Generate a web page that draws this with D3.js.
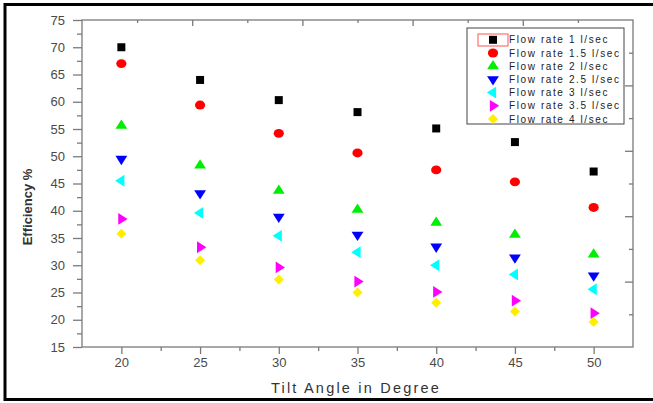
<!DOCTYPE html>
<html>
<head>
<meta charset="utf-8">
<script src="https://cdn.jsdelivr.net/npm/d3@7"></script>
<style>
  body { margin: 0; background: #fff; }
  svg { display: block; font-family: Arial, "Liberation Sans", sans-serif; }
</style>
</head>
<body>
<div id="chart"></div>
<script>
// tilt angles (x) and efficiency values per flow rate
const angles = [20, 25, 30, 35, 40, 45, 50];
const flow1 = [70, 64, 60.3, 58.1, 55.1, 52.6, 47.2];
const flow15 = [67, 59.4, 54.2, 50.6, 47.5, 45.3, 40.6];
const flow2 = [55.6, 48.3, 43.7, 40.2, 37.8, 35.6, 32.0];
const flow25 = [49.5, 43.2, 38.9, 35.6, 33.4, 31.4, 28.1];
const flow3 = [45.5, 39.6, 35.4, 32.4, 30.0, 28.3, 25.6];
const flow35 = [38.5, 33.3, 29.6, 27.0, 25.1, 23.5, 21.2];
const flow4 = [35.8, 30.9, 27.4, 25.0, 23.1, 21.5, 19.6];

const seriesNames = ["Flow rate 1 l/sec", "Flow rate 1.5 l/sec", "Flow rate 2 l/sec",
  "Flow rate 2.5 l/sec", "Flow rate 3 l/sec", "Flow rate 3.5 l/sec", "Flow rate 4 l/sec"];
const seriesValues = [flow1, flow15, flow2, flow25, flow3, flow35, flow4];
const seriesColors = ["#000000", "#ff0000", "#00ee00", "#0000ff", "#00ffff", "#ff00ff", "#ffee00"];
const seriesShapes = ["square", "circle", "up", "down", "left", "right", "diamond"];

const xTicks = [20, 25, 30, 35, 40, 45, 50];
const yTicks = [15, 20, 25, 30, 35, 40, 45, 50, 55, 60, 65, 70, 75];

const width = 653, height = 403;
const plotL = 82, plotR = 633, plotT = 20, plotB = 347;

const svg = d3.select('#chart').append('svg')
    .attr('width', width)
    .attr('height', height);

const x = d3.scaleLinear().domain([17.5, 52.5]).range([plotL, plotR]);
const y = d3.scaleLinear().domain([15, 75]).range([plotB, plotT]);

// outer border
svg.append('rect')
    .attr('x', 5).attr('y', 4.5)
    .attr('width', 660).attr('height', 395)
    .attr('fill', 'none')
    .attr('stroke', '#000')
    .attr('stroke-width', 3);

// plot frame
svg.append('rect')
    .attr('x', plotL).attr('y', plotT)
    .attr('width', plotR - plotL).attr('height', plotB - plotT)
    .attr('fill', 'none')
    .attr('stroke', '#7a7a7a')
    .attr('stroke-width', 1.3);

function styleAxis(g) {
    g.select('.domain').remove();
    g.selectAll('line').attr('stroke', '#7a7a7a').attr('stroke-width', 1.3);
    g.selectAll('text').attr('fill', '#4a4a4a').style('font-size', '13px');
}

// bottom axis: major + minor
svg.append('g')
    .attr('transform', `translate(0,${plotB})`)
    .call(d3.axisBottom(x).tickValues(xTicks).tickSize(7).tickPadding(4))
    .call(styleAxis);
svg.append('g')
    .attr('transform', `translate(0,${plotB})`)
    .call(d3.axisBottom(x).tickValues(xTicks.slice(0, -1).map(v => v + 2.5)).tickSize(4).tickFormat(''))
    .call(styleAxis);

// left axis: major + minor
svg.append('g')
    .attr('transform', `translate(${plotL},0)`)
    .call(d3.axisLeft(y).tickValues(yTicks).tickSize(9).tickPadding(8))
    .call(styleAxis);
svg.append('g')
    .attr('transform', `translate(${plotL},0)`)
    .call(d3.axisLeft(y).tickValues(yTicks.slice(0, -1).map(v => v + 2.5)).tickSize(5).tickFormat(''))
    .call(styleAxis);

// top and right axes have their own (unlabeled) 10-step scales
const xTop = d3.scaleLinear().domain([0, 10]).range([plotL, plotR]);
const yRight = d3.scaleLinear().domain([0, 10]).range([plotB, plotT]);
const oddSteps = [1, 3, 5, 7, 9], evenSteps = [2, 4, 6, 8];

svg.append('g')
    .attr('transform', `translate(0,${plotT})`)
    .call(d3.axisBottom(xTop).tickValues(evenSteps).tickSize(6).tickFormat(''))
    .call(styleAxis);
svg.append('g')
    .attr('transform', `translate(0,${plotT})`)
    .call(d3.axisBottom(xTop).tickValues(oddSteps).tickSize(3).tickFormat(''))
    .call(styleAxis);
svg.append('g')
    .attr('transform', `translate(${plotR},0)`)
    .call(d3.axisLeft(yRight).tickValues(evenSteps).tickSize(8).tickFormat(''))
    .call(styleAxis);
svg.append('g')
    .attr('transform', `translate(${plotR},0)`)
    .call(d3.axisLeft(yRight).tickValues(oddSteps).tickSize(4).tickFormat(''))
    .call(styleAxis);

// axis titles
svg.append('text')
    .attr('x', 356)
    .attr('y', 393)
    .attr('text-anchor', 'middle')
    .style('font-size', '14.5px')
    .style('letter-spacing', '2.2px')
    .attr('fill', '#333')
    .text('Tilt Angle in Degree');

svg.append('text')
    .attr('transform', 'translate(32,207) rotate(-90)')
    .attr('text-anchor', 'middle')
    .style('font-size', '13px')
    .style('font-weight', 'bold')
    .attr('fill', '#333')
    .text('Efficiency %');

// marker shapes
function symbolPath(shape) {
    switch (shape) {
        case 'square': return { d: d3.symbol(d3.symbolSquare, 64)(), rot: 0, sx: 1 };
        case 'circle': return { d: d3.symbol(d3.symbolCircle, 62)(), rot: 0, sx: 1.15 };
        case 'up': return { d: d3.symbol(d3.symbolTriangle, 50)(), rot: 0, sx: 1.1 };
        case 'down': return { d: d3.symbol(d3.symbolTriangle, 50)(), rot: 180, sx: 1.1 };
        case 'left': return { d: d3.symbol(d3.symbolTriangle, 50)(), rot: -90, sx: 1.1 };
        case 'right': return { d: d3.symbol(d3.symbolTriangle, 50)(), rot: 90, sx: 1.1 };
        case 'diamond': return { d: d3.symbol(d3.symbolSquare, 50)(), rot: 45, sx: 1 };
    }
}

function drawMarker(g, shape, color, cx, cy) {
    const s = symbolPath(shape);
    g.append('path')
        .attr('d', s.d)
        .attr('fill', color)
        .attr('transform', `translate(${cx},${cy}) rotate(${s.rot}) scale(${s.sx},1)`);
}

const marks = svg.append('g');
seriesValues.forEach((vals, i) => {
    vals.forEach((v, j) => {
        drawMarker(marks, seriesShapes[i], seriesColors[i], x(angles[j]), y(v));
    });
});

// legend
const legend = svg.append('g');
legend.append('rect')
    .attr('x', 467).attr('y', 28)
    .attr('width', 157).attr('height', 96)
    .attr('fill', '#fff')
    .attr('stroke', '#444')
    .attr('stroke-width', 1);

const legendY = d3.scaleLinear().domain([0, 6]).range([39.8, 119]);
seriesNames.forEach((name, i) => {
    drawMarker(legend, seriesShapes[i], seriesColors[i], 493, legendY(i));
    legend.append('text')
        .attr('x', 509)
        .attr('y', legendY(i) + 3.5)
        .style('font-size', '10px')
        .style('letter-spacing', '1.6px')
        .attr('fill', '#222')
        .text(name);
});

// red highlight around first legend symbol
legend.append('rect')
    .attr('x', 478).attr('y', 34)
    .attr('width', 30).attr('height', 12)
    .attr('fill', 'none')
    .attr('stroke', '#ff5555')
    .attr('stroke-width', 1);
</script>
</body>
</html>
